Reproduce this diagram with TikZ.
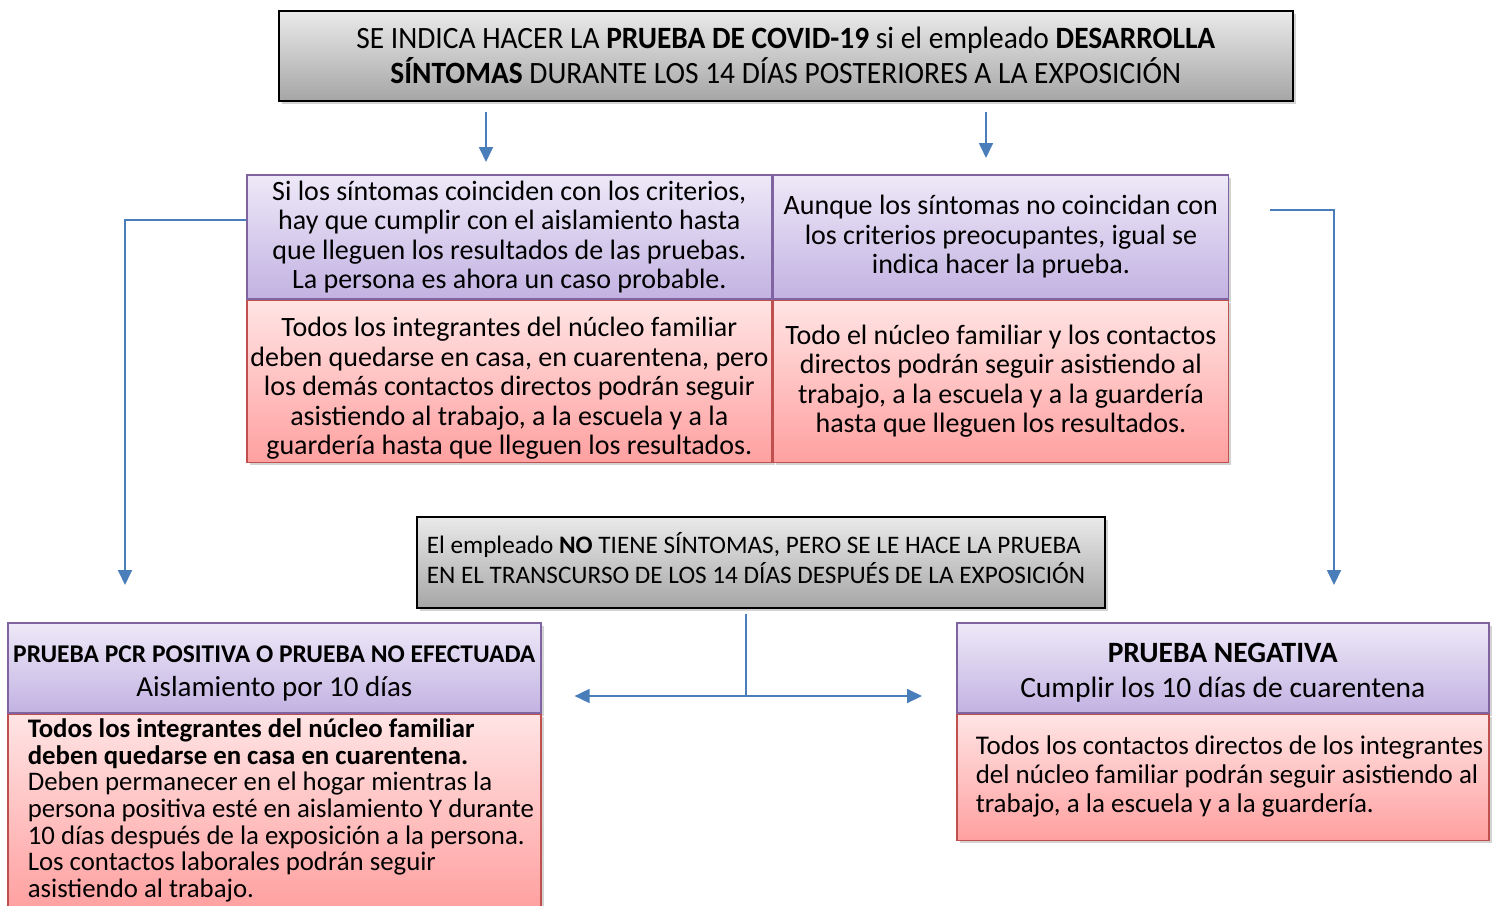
\documentclass[tikz,border=0pt]{standalone}
\usepackage{fontspec}
\setmainfont{Carlito}
\newfontfamily\titlefont[FakeStretch=0.95]{Carlito}
\usepackage{tikz}
\usetikzlibrary{arrows.meta, positioning, shadows}
\definecolor{linkblue}{RGB}{74,126,187}
\definecolor{lilacline}{RGB}{128,100,162}
\definecolor{lilactop}{RGB}{238,233,248}
\definecolor{lilacbot}{RGB}{194,178,226}
\definecolor{roseline}{RGB}{192,80,77}
\definecolor{rosetop}{RGB}{255,228,228}
\definecolor{rosebot}{RGB}{255,160,160}
\definecolor{greytop}{RGB}{234,234,234}
\definecolor{greybot}{RGB}{166,166,166}
\newcommand{\tightsp}{\spaceskip=0pt\xspaceskip=0pt\noindent}

\begin{document}
\begin{tikzpicture} [
        x = 1pt, y = -1pt,
        shade/.style = {drop shadow={opacity=0.35, shadow xshift=3pt, shadow yshift=-3pt}},
        greybox/.style = {draw=black, line width=1.6pt, top color=greytop, bottom color=greybot, shade},
        lilacbox/.style = {draw=lilacline, line width=1.6pt, top color=lilactop, bottom color=lilacbot, align=center, inner sep=0pt, shade},
        rosebox/.style = {draw=roseline, line width=1.6pt, top color=rosetop, bottom color=rosebot, align=center, inner sep=0pt, shade},
        link/.style = {draw=linkblue, line width=1.8pt},
        conn/.style = {link, -{Triangle[width=14pt, length=15pt]}}
    ]

    \useasboundingbox (0,0) rectangle (1512,905);

    \coordinate (a1) at (486,0);
    \coordinate (a2) at (986,0);
    \coordinate (lftx) at (125,220);
    \coordinate (rgtx) at (1334,210);
    \coordinate (split) at (746,696);

    \node[greybox, anchor=north west, minimum width=1014pt, minimum height=90pt, align=center,
          font=\titlefont\fontsize{31}{35}\selectfont] (title) at (278,10)
        {SE INDICA HACER LA \textbf{PRUEBA DE COVID-19} si el empleado \textbf{DESARROLLA}\\
         \textbf{SÍNTOMAS} DURANTE LOS 14 DÍAS POSTERIORES A LA EXPOSICIÓN};

    \node[lilacbox, anchor=north west, minimum width=525pt, minimum height=124pt,
          font=\fontsize{28}{29.5}\selectfont] (probL) at (246,174)
        {Si los síntomas coinciden con los criterios,\\ hay que cumplir con el aislamiento hasta\\
         que lleguen los resultados de las pruebas.\\ La persona es ahora un caso probable.};
    \node[lilacbox, right=0pt of probL, minimum width=455pt, minimum height=124pt,
          font=\fontsize{28}{29.5}\selectfont] (probR)
        {Aunque los síntomas no coincidan con\\ los criterios preocupantes, igual se\\ indica hacer la prueba.};
    \node[rosebox, below=0pt of probL, minimum width=525pt, minimum height=162pt,
          font=\fontsize{28}{29.5}\selectfont] (famL)
        {\rule{0pt}{33pt}Todos los integrantes del núcleo familiar\\ deben quedarse en casa, en cuarentena, pero\\
         los demás contactos directos podrán seguir\\ asistiendo al trabajo, a la escuela y a la\\
         guardería hasta que lleguen los resultados.};
    \node[rosebox, below=0pt of probR, minimum width=455pt, minimum height=162pt,
          font=\fontsize{28}{29.5}\selectfont] (famR)
        {Todo el núcleo familiar y los contactos\\ directos podrán seguir asistiendo al\\
         trabajo, a la escuela y a la guardería\\ hasta que lleguen los resultados.};

    \node[greybox, anchor=north west, text width=668pt, inner xsep=10pt, minimum height=91pt,
          font=\fontsize{25.2}{30}\selectfont] (asint) at (416,516)
        {\tightsp\begin{tabular}{@{}l@{}}
         El empleado \textbf{NO} TIENE SÍNTOMAS, PERO SE LE HACE LA PRUEBA\\
         EN EL TRANSCURSO DE LOS 14 DÍAS DESPUÉS DE LA EXPOSICIÓN
         \end{tabular}};

    \node[lilacbox, anchor=north west, minimum width=533pt, minimum height=90pt,
          font=\fontsize{29}{34}\selectfont] (posHead) at (7,622)
        {\rule{0pt}{29pt}{\fontsize{25.5}{30}\selectfont\bfseries PRUEBA PCR POSITIVA O PRUEBA NO EFECTUADA}\\
         Aislamiento por 10 días};
    \node[rosebox, below=0pt of posHead, text width=493pt, inner xsep=20pt, inner ysep=4pt,
          font=\fontsize{26.8}{26.7}\selectfont] (posBody)
        {\tightsp\begin{tabular}{@{}l@{}}
         \textbf{Todos los integrantes del núcleo familiar}\\
         \textbf{deben quedarse en casa en cuarentena.}\\
         Deben permanecer en el hogar mientras la\\ persona positiva esté en aislamiento Y durante\\
         10 días después de la exposición a la persona.\\ Los contactos laborales podrán seguir\\
         asistiendo al trabajo.
         \end{tabular}};

    \node[lilacbox, anchor=north west, minimum width=532pt, minimum height=90pt,
          font=\fontsize{29.5}{35}\selectfont] (negHead) at (956,622)
        {\rule{0pt}{30pt}\textbf{PRUEBA NEGATIVA}\\ Cumplir los 10 días de cuarentena};
    \node[rosebox, below=0pt of negHead, text width=494pt, inner xsep=19pt, minimum height=126pt,
          font=\fontsize{27}{29}\selectfont] (negBody)
        {\tightsp\begin{tabular}{@{}l@{}}
         Todos los contactos directos de los integrantes\\
         del núcleo familiar podrán seguir asistiendo al\\ trabajo, a la escuela y a la guardería.
         \end{tabular}};

    \path[conn, shorten <=10pt, shorten >=12pt] (title.south -| a1) -- (probL.north -| a1);
    \path[conn, shorten <=10pt, shorten >=16pt] (title.south -| a2) -- (probR.north -| a2);
    \path[conn, shorten >=37pt] (probL.west |- lftx) -| (posHead.north -| lftx);
    \path[conn, shorten <=41pt, shorten >=37pt] (probR.east |- rgtx) -| (negHead.north -| rgtx);
    \path[link, shorten <=5pt] (asint.south -| split) -- (split);
    \path[conn, shorten >=33pt] (split) -- (posHead.east |- split);
    \path[conn, shorten >=34pt] (split) -- (negHead.west |- split);

\end{tikzpicture}
\end{document}
